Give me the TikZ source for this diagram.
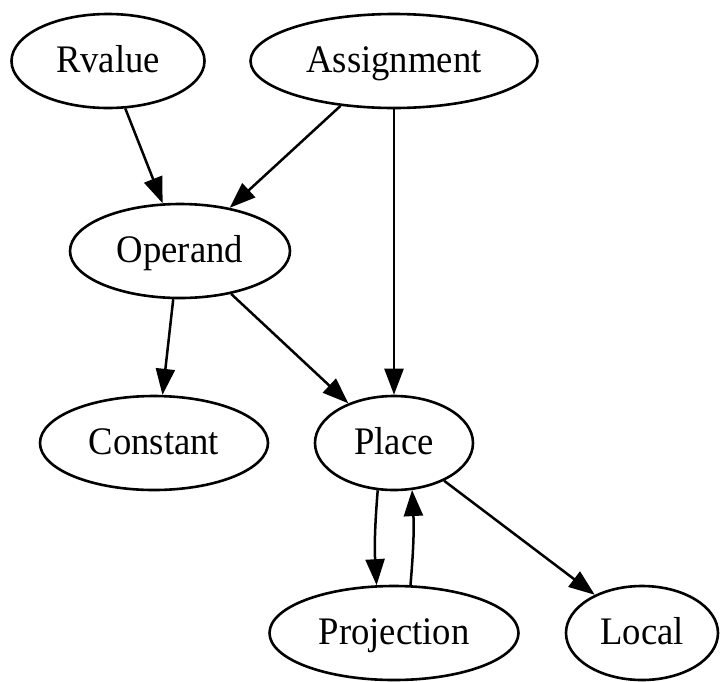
\documentclass[tikz,border=0pt]{standalone}
\usepackage{fontspec}
\setmainfont{Liberation Serif}[FakeStretch=0.94]
\usetikzlibrary{shapes.geometric,arrows.meta}
\begin{document}
\begin{tikzpicture}[x=1pt,y=-1pt,
  gnode/.style={ellipse,draw,line width=2.6pt,inner sep=0pt,minimum height=94pt,
    text height=28pt,text depth=6pt,font=\fontsize{39}{42}\selectfont},
  edge/.style={line width=2.5pt,-{Triangle[length=26pt,width=19pt]}}]
\useasboundingbox (0,0) rectangle (726,681);
\node[gnode,minimum width=193pt] (rv) at (108,61) {Rvalue};
\node[gnode,minimum width=287pt] (as) at (394,61) {Assignment};
\node[gnode,minimum width=220pt] (op) at (180,251) {Operand};
\node[gnode,minimum width=228pt] (co) at (154,443) {Constant};
\node[gnode,minimum width=158pt] (pl) at (394,443) {Place};
\node[gnode,minimum width=249pt] (pr) at (394,633) {Projection};
\node[gnode,minimum width=152pt] (lo) at (642,633) {Local};
% edges
\draw[edge] (rv.-70) -- (op.110);
\draw[edge] (as.-140) -- (op.41);
\draw[edge] (as.-90) -- (pl.90);
\draw[edge] (op.-98) -- (co.80);
\draw[edge] (op.-40) -- (pl.139);
\draw[edge] (pl.-109) to[bend right=4] (pr.110);
\draw[edge] (pr.71) to[bend right=4] (pl.-69);
\draw[edge] (pl.-37) -- (lo.141);
\end{tikzpicture}
\end{document}
